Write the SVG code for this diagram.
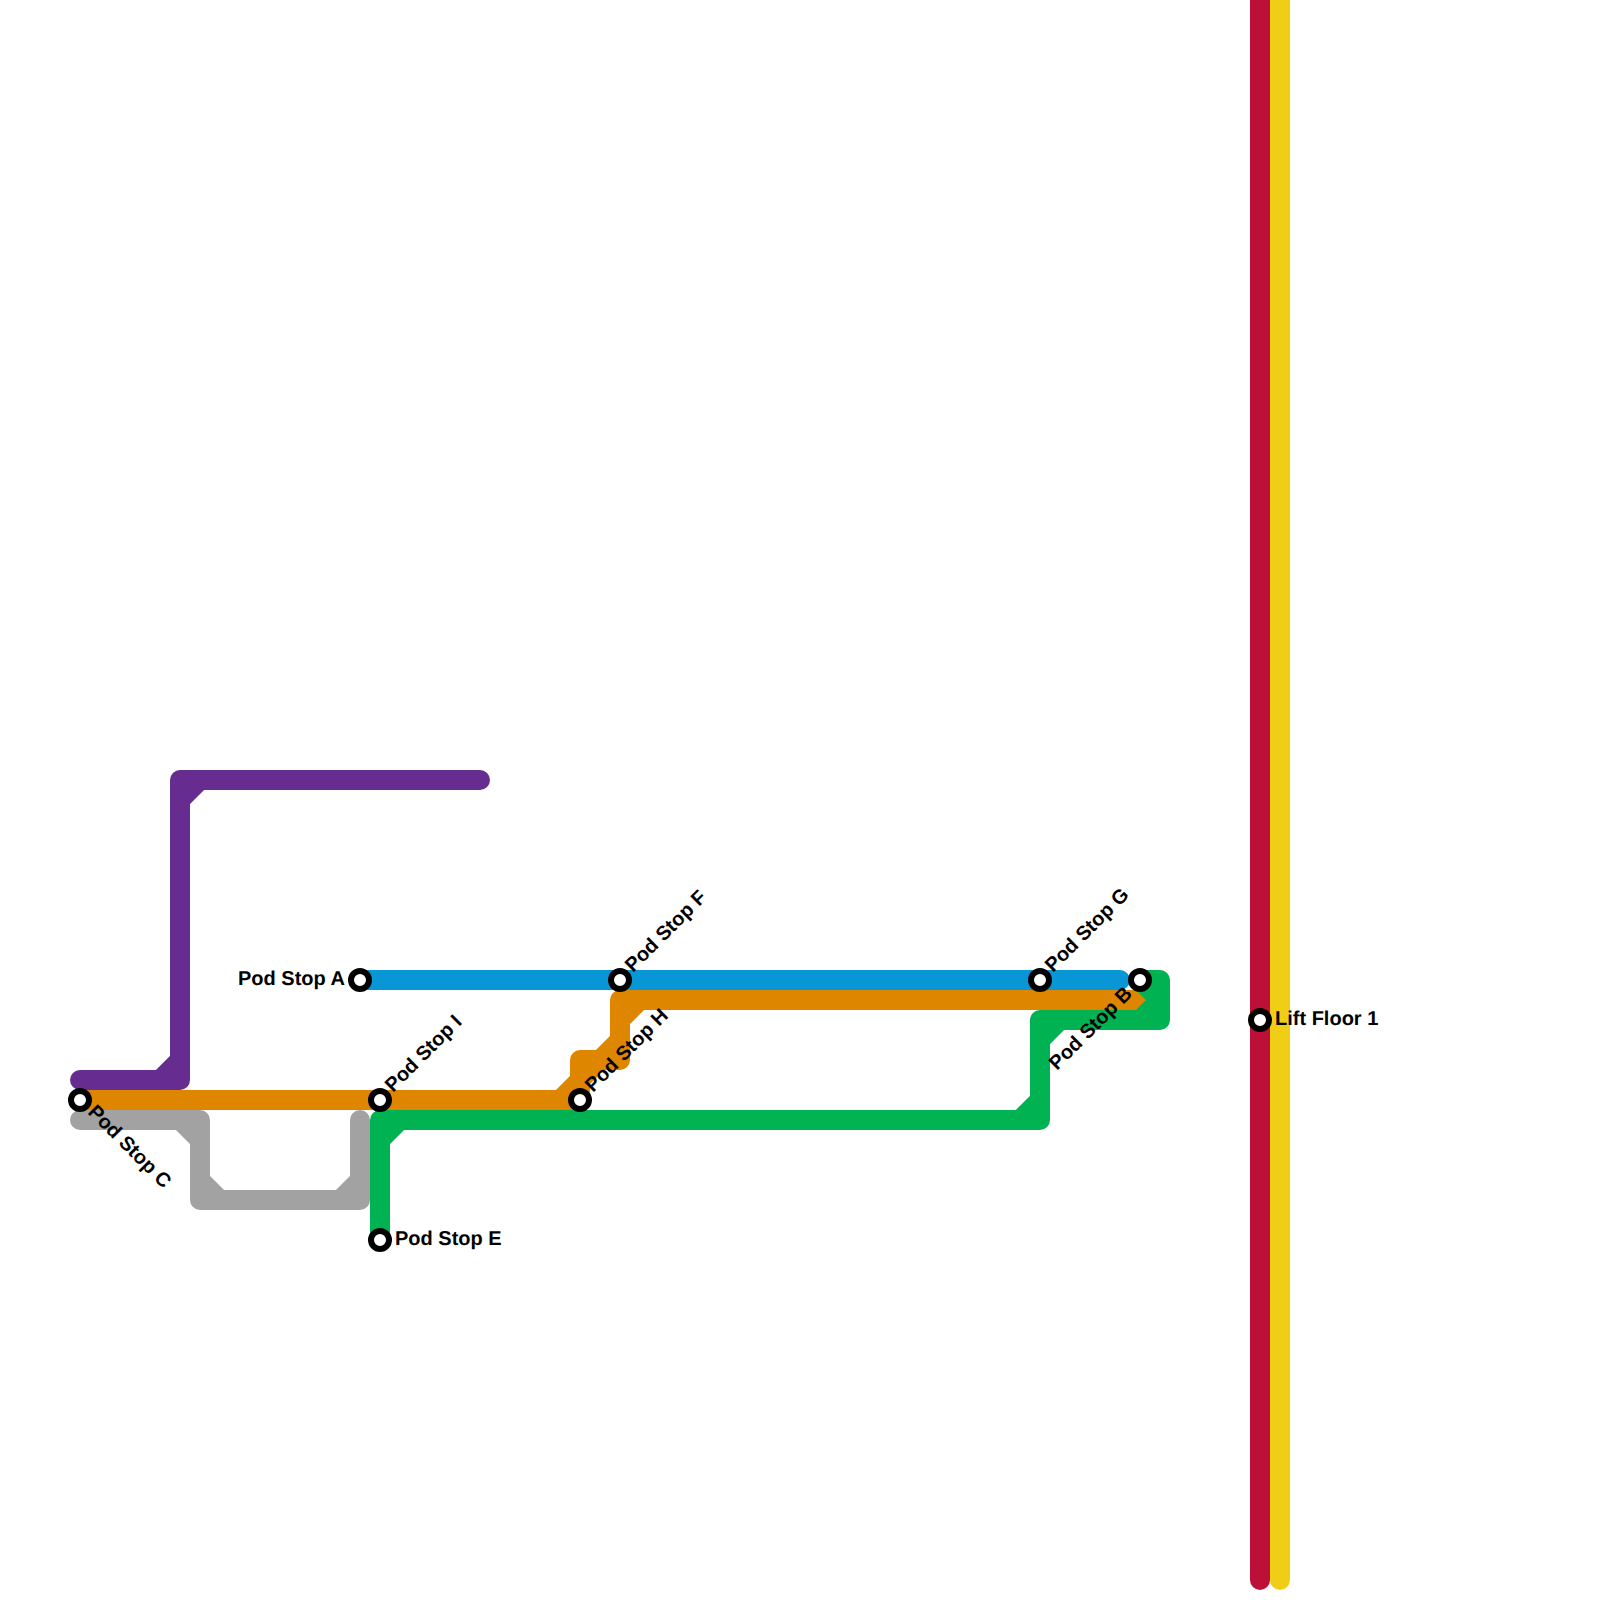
<svg xmlns="http://www.w3.org/2000/svg" width="1600" height="1600" viewBox="0 0 1600 1600">
<style>
.l{fill:none;stroke-width:20;stroke-linecap:round;stroke-linejoin:round}
.s{fill:#fff;stroke:#000;stroke-width:6}
text{font-family:"Liberation Sans",Arial,sans-serif;font-weight:700;font-size:20px;fill:#000;text-rendering:geometricPrecision}
</style>
<rect width="1600" height="1600" fill="#fff"/>
<g id="connectors">
<path id="line-red" class="l" stroke="#bd1038" d="M1260 -20V1580"/>
<path id="line-yellow" class="l" stroke="#f0ce15" d="M1280 -20V1580"/>
<path id="line-purple" class="l" stroke="#662c90" d="M80 1080H180V780H480M160 1080L180 1060M180 800L200 780"/>
<path id="line-gray" class="l" stroke="#a2a2a2" d="M80 1120H200V1200H360V1120M180 1120L200 1140M200 1180L220 1200M340 1200L360 1180"/>
<path id="line-orange" class="l" stroke="#df8600" d="M80 1100H580V1060H620V1000H1140M560 1100L620 1040M620 1020L640 1000"/>
<path id="line-green" class="l" stroke="#00b251" d="M380 1240V1120H1040V1020H1160V980H1140M380 1140L400 1120M1020 1120L1040 1100M1040 1040L1060 1020M1140 1020L1160 1000M1140 980L1160 1000"/>
<path id="line-blue" class="l" stroke="#0896d7" d="M360 980H1120"/>
</g>
<g id="stop-a"><circle class="s" cx="360" cy="980" r="9"/><text x="345" y="985" text-anchor="end">Pod Stop A</text></g>
<g id="stop-b"><circle class="s" cx="1140" cy="980" r="9"/><text transform="translate(1057 1071) rotate(-45)">Pod Stop B</text></g>
<g id="stop-c"><circle class="s" cx="80" cy="1100" r="9"/><text transform="translate(87 1113) rotate(45)">Pod Stop C</text></g>
<g id="stop-e"><circle class="s" cx="380" cy="1240" r="9"/><text x="395" y="1245">Pod Stop E</text></g>
<g id="stop-f"><circle class="s" cx="620" cy="980" r="9"/><text transform="translate(633 973) rotate(-45)">Pod Stop F</text></g>
<g id="stop-g"><circle class="s" cx="1040" cy="980" r="9"/><text transform="translate(1053 973) rotate(-45)">Pod Stop G</text></g>
<g id="stop-h"><circle class="s" cx="580" cy="1100" r="9"/><text transform="translate(593 1093) rotate(-45)">Pod Stop H</text></g>
<g id="stop-i"><circle class="s" cx="380" cy="1100" r="9"/><text transform="translate(393 1093) rotate(-45)">Pod Stop I</text></g>
<g id="lift-floor-1"><circle class="s" cx="1260" cy="1020" r="9"/><text x="1275" y="1025">Lift Floor 1</text></g>
</svg>
